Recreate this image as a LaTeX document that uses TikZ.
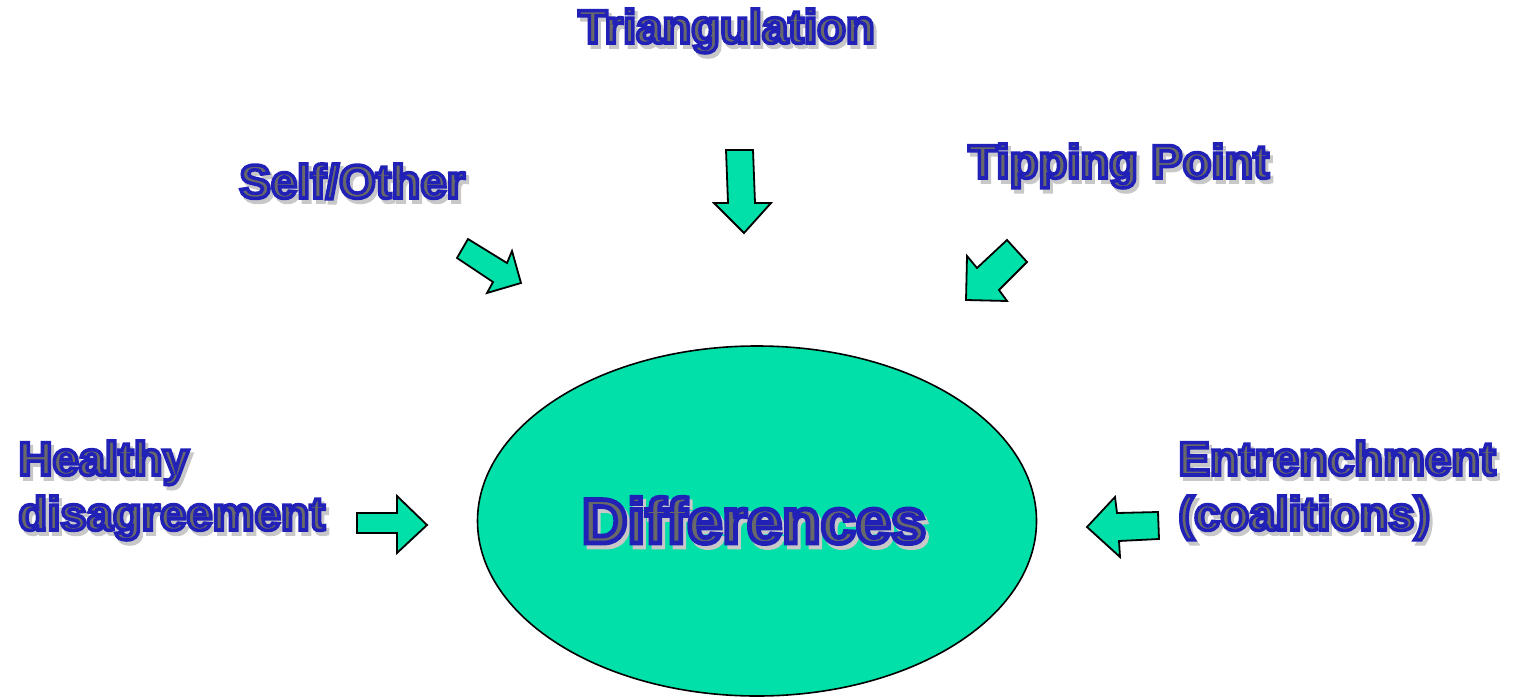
\documentclass[tikz,border=0pt]{standalone}
\usepackage{fontspec}
\usetikzlibrary{shapes.geometric}
\newfontfamily\outl[FakeBold=7.5]{Liberation Sans Bold}
\definecolor{textgray}{RGB}{105,105,105}
\definecolor{shadowgray}{RGB}{200,200,200}
\definecolor{tealgreen}{RGB}{0,224,168}
\newcommand\bluestroke{\special{pdf:literal direct 0.13 0.13 0.72 RG}}
\begin{document}
\begin{tikzpicture}[x=0.5pt,y=-0.5pt,
  lbl/.style={font=\outl\fontsize{23.6}{27.5}\selectfont, text=textgray, inner sep=0pt, anchor=base west},
  shd/.style={lbl, text=shadowgray},
  big/.style={font=\outl\fontsize{31.6}{34}\selectfont, text=textgray, inner sep=0pt, anchor=base},
  bigshd/.style={big, text=shadowgray},
  blk/.style={fill=tealgreen, draw=black, line width=0.9pt, line join=miter}]
\useasboundingbox (0,0) rectangle (1514,696);
% ellipse
\node[ellipse, draw=black, fill=tealgreen, line width=0.8pt, inner sep=0pt,
      minimum width=279.5pt, minimum height=175pt] (ell) at (757,521) {};
% block arrows
\draw[blk] (726,150) -- (753,150) -- (755,203) -- (771,203) -- (744,233) -- (714,203) -- (728,203) -- cycle;
\draw[blk] (468,239) -- (507,263) -- (512,251) -- (521,283) -- (487,293) -- (493,282) -- (457,258) -- cycle;
\draw[blk] (1007,240) -- (1027,262) -- (999,290) -- (1007,301) -- (966,300) -- (967,256) -- (977,268) -- cycle;
\draw[blk] (357,513) -- (397,513) -- (397,496) -- (427,525) -- (397,553) -- (397,533) -- (357,533) -- cycle;
\draw[blk] (1087,527) -- (1115,497) -- (1117,513) -- (1158,512) -- (1159,539) -- (1119,541) -- (1120,557) -- cycle;
% text shadows
\node[shd] (triS) at (581,47) {Triangulation};
\node[shd] (selfS) at (242,202) {Self/Other};
\node[shd] (tipS) at (971,182) {Tipping Point};
\node[shd] (healS) at (21,479) {\begin{tabular}[t]{@{}l@{}}Healthy\\disagreement\end{tabular}};
\node[shd] (entS) at (1181,479) {\begin{tabular}[t]{@{}l@{}}Entrenchment\\(coalitions)\end{tabular}};
\node[bigshd] (difS) at (757,547) {Differences};
% labels
\node[lbl] (tri) at (578,43) {\bluestroke Triangulation};
\node[lbl] (self) at (239,198) {\bluestroke Self/Other};
\node[lbl] (tip) at (968,178) {\bluestroke Tipping Point};
\node[lbl] (heal) at (18,475) {\bluestroke\begin{tabular}[t]{@{}l@{}}\bluestroke Healthy\\\bluestroke disagreement\end{tabular}};
\node[lbl] (ent) at (1178,475) {\bluestroke\begin{tabular}[t]{@{}l@{}}\bluestroke Entrenchment\\\bluestroke (coalitions)\end{tabular}};
\node[big] (dif) at (754,543) {\bluestroke Differences};
\end{tikzpicture}
\end{document}
